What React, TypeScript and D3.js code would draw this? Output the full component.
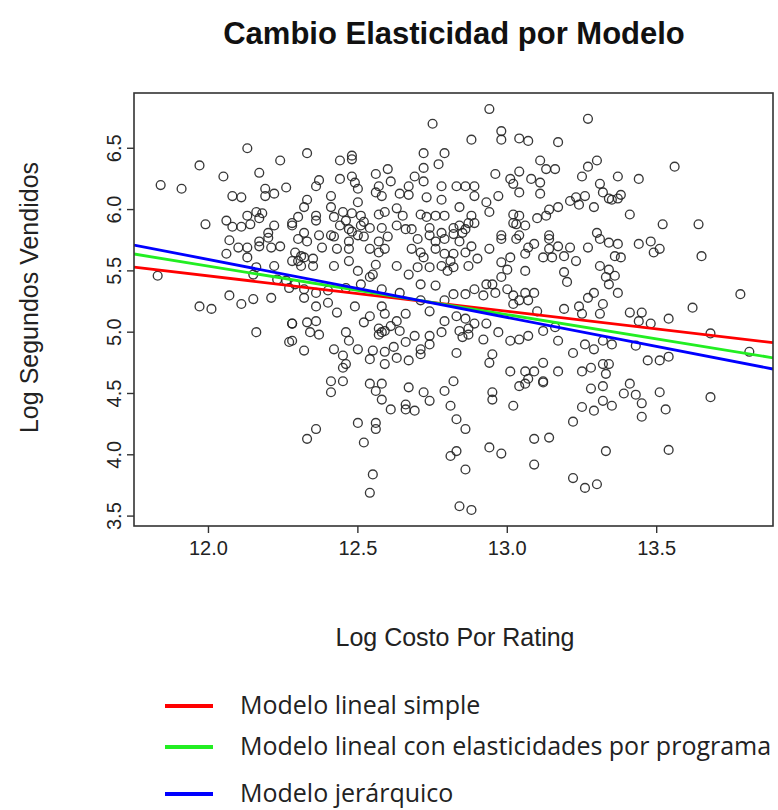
import React from "react";
import * as d3 from "d3";

// Observed programs: [log cost per rating, log seconds sold]
const observaciones: [number, number][] = [
  [12.13,6.50],[11.97,6.36],[12.24,6.40],[12.05,6.27],[12.17,6.30],[11.84,6.20],[11.91,6.17],[12.26,6.18],[12.19,6.17],[12.08,6.11],
  [12.11,6.10],[12.19,6.11],[12.22,6.13],[11.99,5.88],[12.06,5.91],[12.08,5.86],[12.11,5.86],[12.13,5.95],[12.16,5.98],[12.18,5.97],
  [12.14,5.88],[12.17,5.93],[12.22,5.87],[12.20,5.81],[12.28,5.89],
  [12.75,6.70],[12.33,6.46],[12.44,6.40],[12.48,6.44],[12.48,6.41],[12.72,6.46],[12.79,6.46],[12.72,6.34],[12.77,6.37],[12.60,6.33],
  [12.56,6.29],[12.61,6.23],[12.69,6.27],[12.72,6.23],[12.44,6.25],[12.37,6.24],[12.36,6.19],[12.48,6.27],[12.49,6.22],[12.50,6.17],
  [12.57,6.19],[12.56,6.14],[12.58,6.11],[12.64,6.13],[12.67,6.12],[12.67,6.19],[12.78,6.19],[12.78,6.08],[12.73,6.10],[12.41,6.11],
  [12.33,6.08],[12.32,6.02],[12.50,6.06],[12.41,6.02],[12.36,5.95],[12.36,5.91],[12.45,5.98],[12.48,5.97],[12.51,5.95],[12.42,5.94],
  [12.57,5.96],[12.59,5.98],[12.63,6.01],[12.65,5.95],[12.71,5.96],[12.73,5.94],[12.76,5.95],[12.79,5.95],[12.30,5.94],[12.28,5.87],
  [12.32,5.81],[12.44,5.87],[12.47,5.84],[12.51,5.87],[12.54,5.85],[12.58,5.85],[12.63,5.87],[12.66,5.84],[12.68,5.84],[12.74,5.85],
  [12.78,5.81],[12.41,5.79],[12.50,5.79],[12.82,5.80],[12.46,5.91],[12.52,5.90],[12.48,5.82],
  [12.94,6.82],[13.27,6.74],[12.88,6.57],[12.98,6.64],[12.98,6.57],[13.04,6.58],[13.07,6.56],[13.17,6.55],[13.11,6.40],[13.13,6.33],
  [13.16,6.33],[13.30,6.40],[13.27,6.35],[13.25,6.27],[12.96,6.29],[13.01,6.25],[13.02,6.21],[13.04,6.31],[13.08,6.25],[13.11,6.22],
  [13.11,6.13],[13.04,6.14],[12.97,6.11],[12.83,6.19],[12.86,6.19],[12.89,6.19],[12.89,6.11],[12.93,6.06],[12.94,5.98],[12.84,6.02],
  [12.88,5.95],[12.87,5.89],[12.82,5.85],[12.85,5.81],[12.89,5.89],[13.02,5.96],[13.04,5.95],[13.02,5.89],[13.03,5.88],[13.06,5.87],
  [13.10,5.93],[13.13,5.95],[13.14,6.00],[13.17,6.02],[13.21,6.07],[13.23,6.10],[13.26,6.11],[13.24,6.04],[13.29,6.02],[13.32,6.14],
  [13.31,6.21],[13.35,6.08],[12.98,5.79],[13.04,5.79],[13.14,5.79],[13.30,5.81],[12.84,5.87],[12.86,5.84],
  [13.56,6.35],[13.37,6.27],[13.44,6.25],[13.38,6.12],[13.37,6.09],[13.34,6.09],[13.41,5.96],[13.52,5.88],[13.64,5.88],
  [12.07,5.75],[12.10,5.69],[12.06,5.64],[12.13,5.61],[12.13,5.69],[12.17,5.74],[12.20,5.77],[12.21,5.69],[12.24,5.70],[12.17,5.70],
  [11.83,5.46],[12.16,5.53],[12.15,5.47],[12.22,5.54],[12.23,5.43],[12.26,5.42],[12.27,5.36],[12.28,5.58],[12.07,5.30],[12.11,5.23],
  [12.15,5.27],[12.21,5.28],[11.97,5.21],[12.01,5.19],[12.16,5.00],[12.28,5.07],[12.27,4.92],
  [12.30,5.76],[12.33,5.74],[12.37,5.79],[12.42,5.78],[12.47,5.74],[12.52,5.78],[12.57,5.74],[12.60,5.78],[12.70,5.76],[12.74,5.79],
  [12.76,5.74],[12.79,5.76],
  [12.29,5.65],[12.32,5.61],[12.35,5.60],[12.38,5.69],[12.43,5.68],[12.47,5.68],[12.54,5.68],[12.57,5.65],[12.59,5.68],[12.68,5.68],
  [12.71,5.65],[12.76,5.68],[12.79,5.64],[12.30,5.58],[12.31,5.62],
  [12.31,5.54],[12.35,5.54],[12.42,5.54],[12.47,5.58],[12.50,5.50],[12.54,5.45],[12.56,5.55],[12.63,5.54],[12.67,5.47],[12.70,5.53],
  [12.72,5.61],[12.74,5.53],[12.78,5.54],[12.55,5.47],
  [12.29,5.39],[12.32,5.35],[12.36,5.32],[12.40,5.34],[12.46,5.36],[12.51,5.39],[12.58,5.35],[12.64,5.32],[12.71,5.39],[12.76,5.38],
  [12.79,5.26],
  [12.32,5.28],[12.36,5.21],[12.40,5.24],[12.43,5.16],[12.49,5.21],[12.54,5.13],[12.58,5.21],[12.59,5.15],[12.63,5.09],[12.66,5.15],
  [12.71,5.26],[12.74,5.17],[12.79,5.09],[12.28,5.07],[12.33,5.08],[12.36,5.09],
  [12.34,5.00],[12.37,4.98],[12.46,5.00],[12.47,4.93],[12.52,5.08],[12.57,5.03],[12.59,5.01],[12.61,5.05],[12.64,5.01],[12.69,4.97],
  [12.74,4.97],[12.78,5.00],[12.28,4.93],[12.32,4.85],[12.42,4.86],[12.58,5.00],[12.57,4.98],
  [12.45,4.81],[12.50,4.86],[12.55,4.85],[12.59,4.84],[12.62,4.88],[12.66,4.92],[12.71,4.86],[12.74,4.90],[12.45,4.71],[12.46,4.74],
  [12.54,4.78],[12.59,4.74],[12.63,4.79],[12.71,4.82],[12.67,4.77],
  [12.41,4.60],[12.45,4.60],[12.41,4.51],[12.54,4.58],[12.58,4.58],[12.56,4.52],[12.58,4.45],[12.67,4.55],[12.72,4.51],[12.74,4.44],
  [12.79,4.52],[12.82,4.60],[12.61,4.37],[12.66,4.37],[12.66,4.41],[12.69,4.36],[12.81,4.40],[12.50,4.26],[12.56,4.26],[12.56,4.21],
  [12.52,4.10],[12.36,4.21],[12.33,4.13],[12.81,3.99],[12.55,3.84],[12.54,3.69],
  [13.06,4.58],[13.12,4.59],[13.04,4.56],[12.95,4.51],[12.95,4.45],[13.02,4.40],[13.28,4.54],[13.32,4.56],[13.32,4.44],[13.35,4.40],
  [13.25,4.39],[13.29,4.36],[13.22,4.27],[12.83,4.29],[12.86,4.21],[12.83,4.03],[12.86,3.88],[12.94,4.06],[12.98,4.01],[13.09,4.13],
  [13.14,4.14],[13.09,3.92],[13.33,4.03],[13.22,3.81],[13.26,3.73],[13.30,3.76],[12.84,3.58],[12.88,3.55],
  [13.41,4.58],[13.39,4.50],[13.43,4.49],[13.45,4.42],[13.45,4.31],[13.51,4.51],[13.53,4.37],[13.68,4.47],[13.54,4.04],
  [12.84,5.74],[12.88,5.70],[12.94,5.68],[12.98,5.76],[13.03,5.76],[13.07,5.69],[13.09,5.72],[13.14,5.76],[13.17,5.70],[13.21,5.69],
  [13.27,5.69],[13.31,5.76],[13.34,5.73],
  [12.82,5.64],[12.86,5.65],[12.90,5.60],[13.01,5.61],[13.06,5.64],[13.12,5.61],[13.15,5.61],[13.19,5.62],[13.23,5.58],[13.31,5.54],
  [13.33,5.45],[13.14,5.68],[12.81,5.58],[12.80,5.50],
  [12.82,5.53],[12.87,5.54],[12.98,5.57],[13.00,5.51],[13.06,5.50],[13.19,5.49],[13.20,5.41],[12.98,5.45],[12.95,5.39],[12.93,5.39],
  [12.82,5.31],[12.86,5.31],[12.89,5.35],[12.92,5.30],[12.96,5.32],[13.00,5.35],[13.02,5.30],[13.06,5.32],[13.09,5.32],[13.02,5.23],
  [13.04,5.26],[13.07,5.26],[13.10,5.17],
  [13.24,5.21],[13.27,5.28],[13.29,5.32],[13.32,5.23],[13.19,5.19],[13.31,5.15],[13.25,5.15],
  [12.83,5.13],[12.86,5.11],[12.89,5.07],[12.84,5.01],[12.93,5.07],[12.87,4.98],[12.92,4.94],[12.97,5.00],[13.01,4.93],[13.04,4.94],
  [13.07,4.97],[13.12,5.01],[13.16,5.04],[13.17,4.93],[13.26,4.90],[13.29,4.86],[13.32,4.93],[13.22,4.83],[12.83,4.83],
  [12.87,5.03],[12.85,4.96],
  [12.95,4.82],[12.94,4.75],[13.12,4.75],[13.01,4.68],[13.06,4.68],[13.09,4.68],[13.17,4.68],[13.25,4.68],[13.28,4.71],[13.32,4.74],
  [13.33,4.66],[13.07,4.62],[13.12,4.60],
  [13.37,5.72],[13.44,5.72],[13.48,5.74],[13.51,5.68],[13.49,5.65],[13.36,5.62],[13.38,5.61],[13.34,5.51],[13.36,5.46],[13.34,5.39],
  [13.37,5.32],[13.65,5.62],[13.78,5.31],[13.62,5.20],[13.54,5.11],[13.41,5.16],[13.45,5.16],[13.44,5.09],[13.48,5.07],[13.68,4.99],
  [13.81,4.84],[13.35,4.90],[13.43,4.89],[13.47,4.77],[13.51,4.77],[13.54,4.80],[13.34,4.74],
];

// Fitted lines: log seconds = intercepto + pendiente * log CPR
const modelos = ["Modelo lineal simple", "Modelo lineal con elasticidades por programa", "Modelo jerárquico"];
const interceptos = [8.915, 10.291, 11.269];
const pendientes = [-0.288, -0.396, -0.473];
const colores = ["#ff0000", "#22ee22", "#0000ff"];

const titulo = "Cambio Elasticidad por Modelo";
const etiquetaX = "Log Costo Por Rating";
const etiquetaY = "Log Segundos Vendidos";

const W = 778;
const H = 810;
const box = { left: 134, right: 773, top: 93, bottom: 526 };

// base-graphics style range: data extent padded by 4% on each side
function padded(ext: [number, number]): [number, number] {
  const d = (ext[1] - ext[0]) * 0.04;
  return [ext[0] - d, ext[1] + d];
}

export default function App() {
  const xExt = d3.extent(observaciones, (d) => d[0]) as [number, number];
  const yExt = d3.extent(observaciones, (d) => d[1]) as [number, number];
  const x = d3.scaleLinear().domain(padded(xExt)).range([box.left, box.right]);
  const y = d3.scaleLinear().domain(padded(yExt)).range([box.bottom, box.top]);
  const xTicks = x.ticks(4);
  const yTicks = y.ticks(6);
  const fmt = d3.format(".1f");
  const [x0, x1] = x.domain();
  const sans = "'Liberation Sans', Arial, sans-serif";
  const axisCol = "#333";

  return (
    <svg width={W} height={H} style={{ position: "absolute", left: 0, top: 0, background: "#fff" }}>
      <rect x={0} y={0} width={W} height={H} fill="#fff" />
      <text x={454} y={44} textAnchor="middle" fontFamily={sans} fontWeight="bold" fontSize={31} fill="#111">
        {titulo}
      </text>

      <defs>
        <clipPath id="plotClip">
          <rect x={box.left} y={box.top} width={box.right - box.left} height={box.bottom - box.top} />
        </clipPath>
      </defs>

      <g>
        {observaciones.map((d, i) => (
          <circle key={i} cx={x(d[0])} cy={y(d[1])} r={4.4} fill="none" stroke="#222" strokeWidth={1.35} opacity={0.9} />
        ))}
      </g>

      <g clipPath="url(#plotClip)">
        {modelos.map((m, i) => (
          <line
            key={m}
            x1={x(x0)}
            y1={y(interceptos[i] + pendientes[i] * x0)}
            x2={x(x1)}
            y2={y(interceptos[i] + pendientes[i] * x1)}
            stroke={colores[i]}
            strokeWidth={2.8}
          />
        ))}
      </g>

      <rect
        x={box.left}
        y={box.top}
        width={box.right - box.left}
        height={box.bottom - box.top}
        fill="none"
        stroke={axisCol}
        strokeWidth={1.6}
      />

      {xTicks.map((t) => (
        <g key={"x" + t}>
          <line x1={x(t)} x2={x(t)} y1={box.bottom} y2={box.bottom + 7} stroke={axisCol} strokeWidth={1.4} />
          <text x={x(t)} y={555} textAnchor="middle" fontFamily={sans} fontSize={20} fill="#222">
            {fmt(t)}
          </text>
        </g>
      ))}
      {yTicks.map((t) => (
        <g key={"y" + t}>
          <line x1={box.left - 7} x2={box.left} y1={y(t)} y2={y(t)} stroke={axisCol} strokeWidth={1.4} />
          <text
            transform={`translate(121,${y(t)}) rotate(-90)`}
            textAnchor="middle"
            fontFamily={sans}
            fontSize={20}
            fill="#222"
          >
            {fmt(t)}
          </text>
        </g>
      ))}

      <text x={455} y={646} textAnchor="middle" fontFamily={sans} fontSize={25} fill="#222">
        {etiquetaX}
      </text>
      <text transform={`translate(38,${(box.top + box.bottom) / 2 - 12}) rotate(-90)`} textAnchor="middle" fontFamily={sans} fontSize={25} fill="#222">
        {etiquetaY}
      </text>

      {modelos.map((m, i) => {
        const ly = [706, 747, 794][i];
        return (
          <g key={"leg" + m}>
            <line x1={165} x2={213} y1={ly} y2={ly} stroke={colores[i]} strokeWidth={4} />
            <text x={240} y={ly + 8} fontFamily="'Open Sans', 'Noto Sans', sans-serif" fontSize={25} fill="#222">
              {m}
            </text>
          </g>
        );
      })}
    </svg>
  );
}
